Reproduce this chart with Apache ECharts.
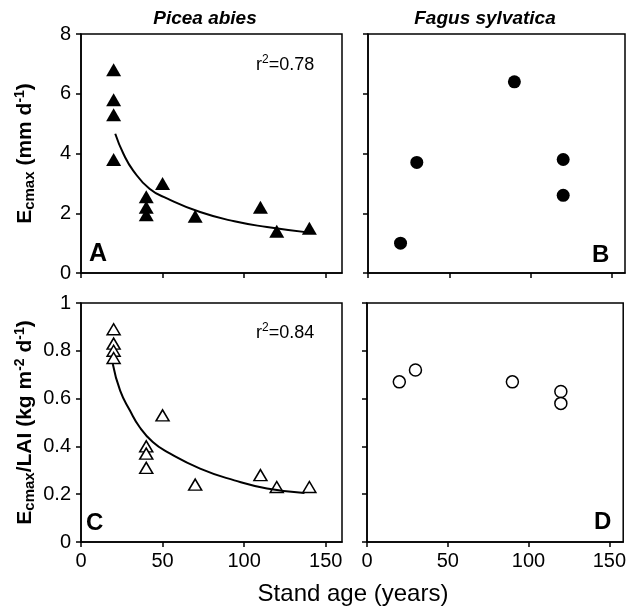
<!DOCTYPE html>
<html>
<head>
<meta charset="utf-8">
<title>Stand age</title>
<script src="https://cdn.jsdelivr.net/npm/echarts@6/dist/echarts.min.js"></script>
<style>body{margin:0;background:#fff;}</style>
</head>
<body>
<div id="main" style="width:629px;height:614px;"></div>
<script type="text/javascript">
// panel A: Picea abies, Ecmax (filled triangles)
var ageA = [20, 20, 20, 20, 40, 40, 40, 50, 70, 110, 120, 140];
var ecA  = [6.8, 5.8, 5.3, 3.8, 2.55, 2.2, 1.95, 3.0, 1.9, 2.2, 1.4, 1.5];
// fitted curve A
var fitAgeA = [21, 26, 32, 42, 53, 73, 94, 114, 139];
var fitEcA  = [4.66, 3.99, 3.43, 2.82, 2.49, 2.04, 1.73, 1.54, 1.36];
// panel B: Fagus sylvatica, Ecmax (filled circles)
var ageB = [20, 30, 90, 120, 120];
var ecB  = [1.0, 3.7, 6.4, 3.8, 2.6];
// panel C: Picea abies, Ecmax/LAI (open triangles)
var ageC = [20, 20, 20, 20, 40, 40, 40, 50, 70, 110, 120, 140];
var lC   = [0.89, 0.83, 0.80, 0.77, 0.40, 0.37, 0.31, 0.53, 0.24, 0.28, 0.23, 0.23];
var fitAgeC = [19.5, 24, 30, 36, 44, 53, 73, 94, 114, 137];
var fitLC   = [0.745, 0.633, 0.55, 0.48, 0.418, 0.376, 0.307, 0.258, 0.224, 0.205];
// panel D: Fagus sylvatica, Ecmax/LAI (open circles)
var ageD = [20, 30, 90, 120, 120];
var lD   = [0.67, 0.72, 0.67, 0.63, 0.58];

var xTicks = [0, 50, 100, 150];
var font = "'Liberation Sans', Arial, Helvetica, sans-serif";

function pairs(xs, ys) {
    var out = [];
    for (var i = 0; i < xs.length; i++) out.push([xs[i], ys[i]]);
    return out;
}

var lineBlack = { color: '#000', width: 1.5 };

function xAx(idx, max, labels) {
    return {
        type: 'value', gridIndex: idx, min: 0, max: max,
        axisLine: { show: true, lineStyle: lineBlack },
        axisTick: { show: true, length: 5, lineStyle: lineBlack, customValues: xTicks },
        axisLabel: { show: labels, color: '#000', fontSize: 20, fontFamily: font, margin: 9, customValues: xTicks },
        splitLine: { show: false }
    };
}
function yAx(idx, max, interval, labels, name) {
    return {
        type: 'value', gridIndex: idx, min: 0, max: max, interval: interval,
        axisLine: { show: true, lineStyle: lineBlack },
        axisTick: { show: true, length: 5, lineStyle: lineBlack },
        axisLabel: { show: labels, color: '#000', fontSize: 20, fontFamily: font, margin: 10 },
        splitLine: { show: false },
        name: name || '',
        nameLocation: 'middle',
        nameGap: 44,
        nameRotate: 90,
        nameTextStyle: {
            color: '#000', fontFamily: font,
            rich: {
                b: { fontSize: 21, fontWeight: 'bold', fontFamily: font, lineHeight: 24, color: '#000' },
                s: { fontSize: 15, fontWeight: 'bold', fontFamily: font, lineHeight: 15, verticalAlign: 'bottom', color: '#000' },
                p: { fontSize: 14, fontWeight: 'bold', fontFamily: font, lineHeight: 14, verticalAlign: 'top', color: '#000' }
            }
        }
    };
}

var gridStyle = { show: true, borderColor: '#000', borderWidth: 1.5, backgroundColor: 'transparent' };
var rText = {
    n: { fontSize: 18, fontFamily: font, lineHeight: 22, color: '#000' },
    p: { fontSize: 12, fontFamily: font, lineHeight: 12, verticalAlign: 'top', color: '#000' }
};

var myChart = echarts.init(document.getElementById('main'));
var option = {
    backgroundColor: '#fff',
    animation: false,
    grid: [
        Object.assign({ left: 81, top: 34, width: 261, height: 239 }, gridStyle),
        Object.assign({ left: 368, top: 34, width: 257, height: 239 }, gridStyle),
        Object.assign({ left: 81, top: 303, width: 261, height: 239 }, gridStyle),
        Object.assign({ left: 367, top: 303, width: 258, height: 239 }, gridStyle)
    ],
    xAxis: [xAx(0, 160, false), xAx(1, 158, false), xAx(2, 160, true), xAx(3, 158.6, true)],
    yAxis: [
        yAx(0, 8, 2, true, '{b|E}{s|cmax}{b| (mm d}{p|-1}{b|)}'),
        yAx(1, 8, 2, false),
        yAx(2, 1, 0.2, true, '{b|E}{s|cmax}{b|/LAI (kg m}{p|-2}{b| d}{p|-1}{b|)}'),
        yAx(3, 1, 0.2, false)
    ],
    graphic: [
        { type: 'text', x: 205, y: 19, style: { text: 'Picea abies', font: 'italic bold 19px ' + font, fill: '#000', align: 'center', verticalAlign: 'middle' } },
        { type: 'text', x: 485, y: 19, style: { text: 'Fagus sylvatica', font: 'italic bold 19px ' + font, fill: '#000', align: 'center', verticalAlign: 'middle' } },
        { type: 'text', x: 89, y: 254, style: { text: 'A', font: 'bold 25px ' + font, fill: '#000', verticalAlign: 'middle' } },
        { type: 'text', x: 592, y: 255, style: { text: 'B', font: 'bold 24px ' + font, fill: '#000', verticalAlign: 'middle' } },
        { type: 'text', x: 86, y: 523, style: { text: 'C', font: 'bold 24px ' + font, fill: '#000', verticalAlign: 'middle' } },
        { type: 'text', x: 594, y: 522, style: { text: 'D', font: 'bold 24px ' + font, fill: '#000', verticalAlign: 'middle' } },
        { type: 'text', x: 256, y: 65, style: { text: '{n|r}{p|2}{n|=0.78}', verticalAlign: 'middle', rich: rText } },
        { type: 'text', x: 256, y: 333, style: { text: '{n|r}{p|2}{n|=0.84}', verticalAlign: 'middle', rich: rText } },
        { type: 'text', x: 353, y: 594, style: { text: 'Stand age (years)', font: '24px ' + font, fill: '#000', align: 'center', verticalAlign: 'middle' } }
    ],
    series: [
        { type: 'scatter', xAxisIndex: 0, yAxisIndex: 0, symbol: 'triangle', symbolSize: [15, 13],
          itemStyle: { color: '#000', opacity: 1 }, data: pairs(ageA, ecA) },
        { type: 'line', xAxisIndex: 0, yAxisIndex: 0, smooth: true, showSymbol: false,
          lineStyle: { color: '#000', width: 2 }, data: pairs(fitAgeA, fitEcA) },
        { type: 'scatter', xAxisIndex: 1, yAxisIndex: 1, symbol: 'circle', symbolSize: 13,
          itemStyle: { color: '#000', opacity: 1 }, data: pairs(ageB, ecB) },
        { type: 'scatter', xAxisIndex: 2, yAxisIndex: 2, symbol: 'triangle', symbolSize: [13, 11],
          itemStyle: { color: '#fff', borderColor: '#000', borderWidth: 1.5, opacity: 1 }, data: pairs(ageC, lC) },
        { type: 'line', xAxisIndex: 2, yAxisIndex: 2, smooth: true, showSymbol: false,
          lineStyle: { color: '#000', width: 2 }, data: pairs(fitAgeC, fitLC) },
        { type: 'scatter', xAxisIndex: 3, yAxisIndex: 3, symbol: 'circle', symbolSize: 12,
          itemStyle: { color: '#fff', borderColor: '#000', borderWidth: 1.5, opacity: 1 }, data: pairs(ageD, lD) }
    ]
};
myChart.setOption(option);
window.onresize = function () {
    myChart.resize();
};
</script>
</body>
</html>
